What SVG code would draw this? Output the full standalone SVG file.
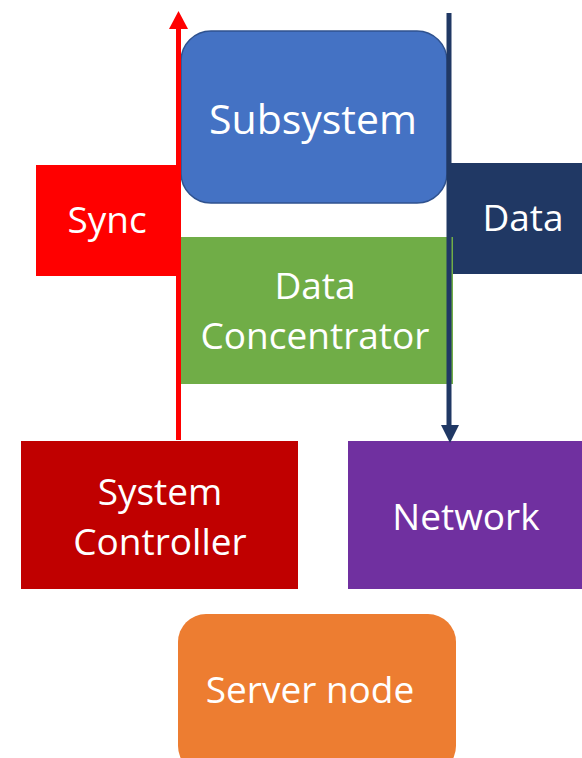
<svg xmlns="http://www.w3.org/2000/svg" width="582" height="758" viewBox="0 0 582 758">
  <style>
    .lbl { font-family: "Open Sans", "Noto Sans", "Liberation Sans", sans-serif; font-size: 37px; fill: #ffffff; text-anchor: middle; }
    .big { font-size: 41px; }
  </style>
  <rect width="582" height="758" fill="#ffffff"/>

  <g id="sync">
    <rect x="36" y="165" width="143" height="111" fill="#ff0000"/>
    <text class="lbl" x="107" y="233">Sync</text>
  </g>
  <g id="data">
    <rect x="447" y="163" width="135" height="111" fill="#203864"/>
    <text class="lbl" x="523" y="231">Data</text>
  </g>
  <g id="subsystem">
    <rect x="181" y="31" width="266" height="172" rx="30" ry="30" fill="#4472c4" stroke="#2f528f" stroke-width="1.5"/>
    <text class="lbl big" x="313" y="134">Subsystem</text>
  </g>
  <g id="data-concentrator">
    <rect x="181" y="237" width="272" height="147" fill="#70ad47"/>
    <text class="lbl" x="315" y="299">Data</text>
    <text class="lbl" x="315" y="349">Concentrator</text>
  </g>
  <g id="system-controller">
    <rect x="21" y="441" width="277" height="148" fill="#c00000"/>
    <text class="lbl" x="160" y="505">System</text>
    <text class="lbl" x="160" y="555">Controller</text>
  </g>
  <g id="network">
    <rect x="348" y="441" width="234" height="148" fill="#7030a0"/>
    <text class="lbl" x="466" y="530">Network</text>
  </g>
  <g id="server-node">
    <rect x="178" y="614" width="278" height="160" rx="28" ry="28" fill="#ed7d31"/>
    <text class="lbl" x="310" y="703">Server node</text>
  </g>

  <g id="connectors">
    <!-- sync path: controller up to the top -->
    <line x1="178.5" y1="440" x2="178.5" y2="28" stroke="#ff0000" stroke-width="5"/>
    <path d="M169,29 L178.5,11 L188,29 Z" fill="#ff0000"/>
    <!-- data path: top down to network -->
    <line x1="449" y1="13" x2="449" y2="426" stroke="#203864" stroke-width="5"/>
    <path d="M441,425 L459,425 L450,443 Z" fill="#203864"/>
  </g>
</svg>
